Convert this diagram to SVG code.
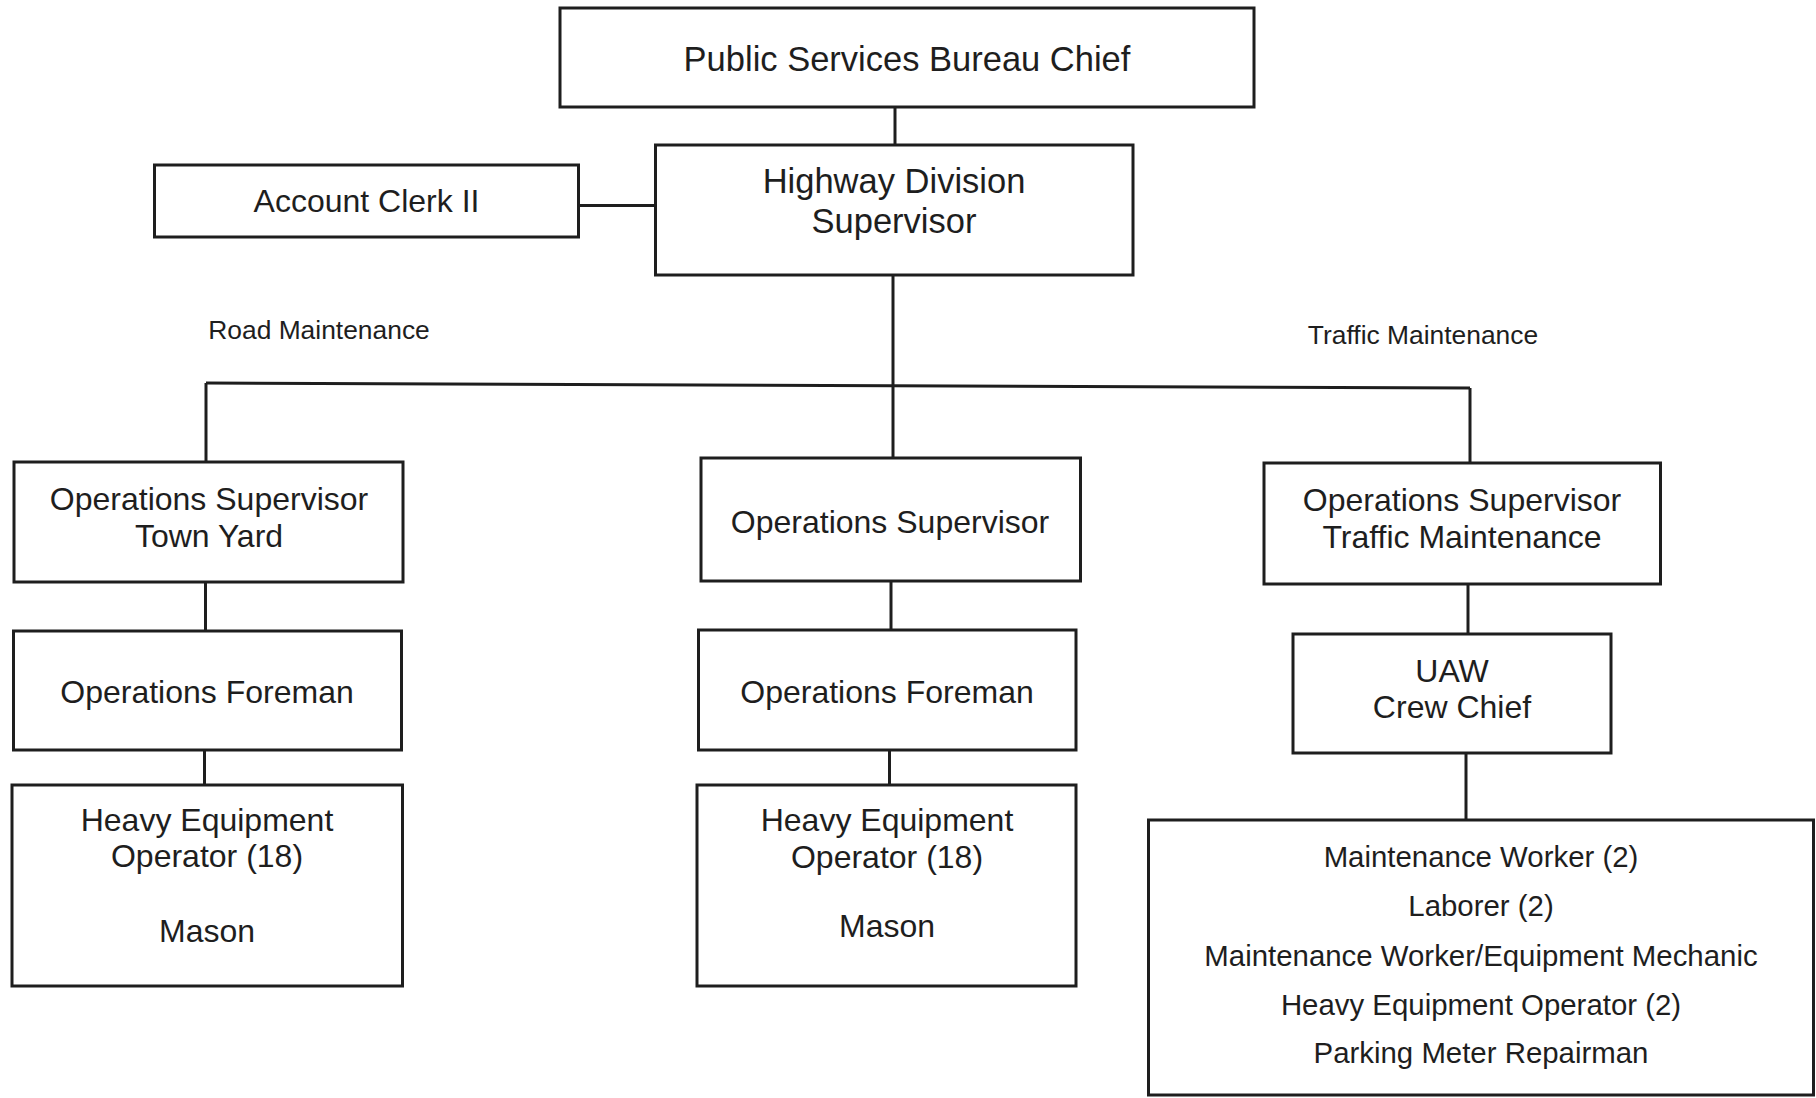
<svg xmlns="http://www.w3.org/2000/svg" width="1816" height="1098" viewBox="0 0 1816 1098">
  <style>
    .box { fill: #ffffff; stroke: #1e1e1e; stroke-width: 3; }
    .link { fill: none; stroke: #1e1e1e; stroke-width: 3; }
    text { font-family: "Liberation Sans", Arial, sans-serif; fill: #1e1e1e; text-anchor: middle; }
    .t34 { font-size: 34.5px; }
    .t32 { font-size: 32px; }
    .t29 { font-size: 29.4px; }
    .lbl { font-size: 26.4px; }
  </style>
  <rect width="1816" height="1098" fill="#ffffff"/>

  <!-- connectors -->
  <g id="connectors">
    <line class="link" x1="895" y1="107" x2="895" y2="145"/>
    <line class="link" x1="578" y1="205.5" x2="655" y2="205.5"/>
    <line class="link" x1="893" y1="275" x2="893" y2="458"/>
    <line class="link" x1="206" y1="383" x2="1470" y2="388"/>
    <line class="link" x1="206" y1="383" x2="206" y2="462"/>
    <line class="link" x1="1470" y1="388" x2="1470" y2="463"/>
    <line class="link" x1="205.5" y1="582" x2="205.5" y2="631"/>
    <line class="link" x1="204.5" y1="750" x2="204.5" y2="785"/>
    <line class="link" x1="891" y1="581" x2="891" y2="630"/>
    <line class="link" x1="889.5" y1="750" x2="889.5" y2="785"/>
    <line class="link" x1="1468" y1="584" x2="1468" y2="634"/>
    <line class="link" x1="1466" y1="753" x2="1466" y2="820"/>
  </g>

  <!-- group labels -->
  <text class="lbl" x="319" y="339">Road Maintenance</text>
  <text class="lbl" x="1423" y="344">Traffic Maintenance</text>

  <g id="bureau-chief">
    <rect class="box" x="560" y="8" width="694" height="99"/>
    <text class="t34" x="907" y="71">Public Services Bureau Chief</text>
  </g>

  <g id="highway-supervisor">
    <rect class="box" x="655.5" y="145" width="477.5" height="130"/>
    <text class="t34" x="894" y="193">Highway Division</text>
    <text class="t34" x="894" y="233">Supervisor</text>
  </g>

  <g id="account-clerk">
    <rect class="box" x="154.5" y="165" width="424" height="72"/>
    <text class="t32" x="366.5" y="212">Account Clerk II</text>
  </g>

  <g id="ops-supervisor-town-yard">
    <rect class="box" x="14" y="462" width="389" height="120"/>
    <text class="t32" x="209" y="510">Operations Supervisor</text>
    <text class="t32" x="209" y="547">Town Yard</text>
  </g>

  <g id="ops-supervisor">
    <rect class="box" x="701" y="458" width="379.5" height="123"/>
    <text class="t32" x="890" y="533">Operations Supervisor</text>
  </g>

  <g id="ops-supervisor-traffic">
    <rect class="box" x="1264" y="463" width="396.5" height="121"/>
    <text class="t32" x="1462" y="511">Operations Supervisor</text>
    <text class="t32" x="1462" y="548">Traffic Maintenance</text>
  </g>

  <g id="ops-foreman-left">
    <rect class="box" x="13.5" y="631" width="388" height="119"/>
    <text class="t32" x="207" y="703">Operations Foreman</text>
  </g>

  <g id="ops-foreman-mid">
    <rect class="box" x="698.5" y="630" width="377.5" height="120"/>
    <text class="t32" x="887" y="703">Operations Foreman</text>
  </g>

  <g id="crew-chief">
    <rect class="box" x="1293" y="634" width="318" height="119"/>
    <text class="t32" x="1452" y="682">UAW</text>
    <text class="t32" x="1452" y="718">Crew Chief</text>
  </g>

  <g id="equipment-left">
    <rect class="box" x="12" y="785" width="390.5" height="201"/>
    <text class="t32" x="207" y="831">Heavy Equipment</text>
    <text class="t32" x="207" y="867">Operator (18)</text>
    <text class="t32" x="207" y="942">Mason</text>
  </g>

  <g id="equipment-mid">
    <rect class="box" x="697" y="785" width="379" height="201"/>
    <text class="t32" x="887" y="831">Heavy Equipment</text>
    <text class="t32" x="887" y="868">Operator (18)</text>
    <text class="t32" x="887" y="937">Mason</text>
  </g>

  <g id="traffic-crew">
    <rect class="box" x="1148.5" y="820" width="665" height="275"/>
    <text class="t29" x="1481" y="867">Maintenance Worker (2)</text>
    <text class="t29" x="1481" y="916">Laborer (2)</text>
    <text class="t29" x="1481" y="966">Maintenance Worker/Equipment Mechanic</text>
    <text class="t29" x="1481" y="1015">Heavy Equipment Operator (2)</text>
    <text class="t29" x="1481" y="1063">Parking Meter Repairman</text>
  </g>
</svg>
